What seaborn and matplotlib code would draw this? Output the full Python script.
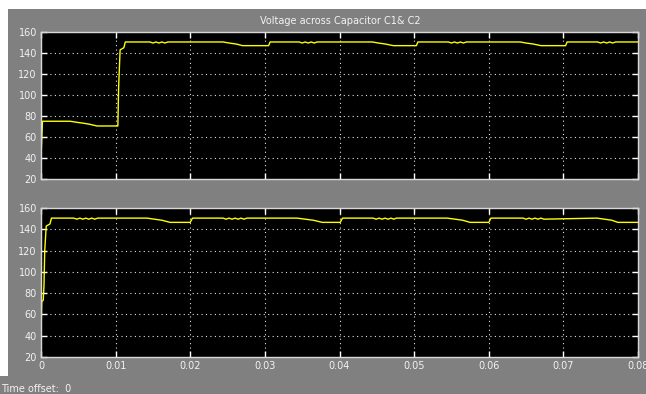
import matplotlib
matplotlib.use("Agg")
import matplotlib.pyplot as plt
from matplotlib.patches import Rectangle
import seaborn as sns
import pandas as pd

# ---- data ----
t_c1 = [0, 0.0002, 0.0039, 0.0048, 0.0058, 0.0066, 0.0075, 0.0103, 0.0104, 0.0106,
        0.0111, 0.0113, 0.0146, 0.0150, 0.0154, 0.0158, 0.0162, 0.0166, 0.0170,
        0.0244, 0.0252, 0.0262, 0.0270, 0.0305, 0.0307,
        0.0346, 0.0350, 0.0354, 0.0358, 0.0362, 0.0366, 0.0370,
        0.0444, 0.0452, 0.0462, 0.0472, 0.0503, 0.0505,
        0.0546, 0.0550, 0.0554, 0.0558, 0.0562, 0.0566, 0.0570,
        0.0642, 0.0650, 0.0660, 0.0670, 0.0703, 0.0705,
        0.0746, 0.0750, 0.0754, 0.0758, 0.0762, 0.0766, 0.0770, 0.0800]
v_c1 = [40, 75, 75, 74, 73, 72, 70.5, 70.5, 107, 143,
        145, 150.5, 150.5, 149.5, 150.5, 149.5, 150.5, 149.5, 150.5,
        150.5, 149.5, 148.5, 147, 147, 150.5,
        150.5, 149.5, 150.5, 149.5, 150.5, 149.5, 150.5,
        150.5, 149.5, 148.5, 147, 147, 150.5,
        150.5, 149.5, 150.5, 149.5, 150.5, 149.5, 150.5,
        150.5, 149.5, 148.5, 147, 147, 150.5,
        150.5, 149.5, 150.5, 149.5, 150.5, 149.5, 150.5, 150.5]

t_c2 = [0, 0.0001, 0.0003, 0.0004, 0.0005, 0.0007, 0.0012, 0.0014,
        0.0044, 0.0048, 0.0052, 0.0056, 0.0060, 0.0064, 0.0068, 0.0072, 0.0076,
        0.0142, 0.0152, 0.0162, 0.0173, 0.0200, 0.0203,
        0.0244, 0.0248, 0.0252, 0.0256, 0.0260, 0.0264, 0.0268, 0.0272, 0.0276,
        0.0343, 0.0354, 0.0365, 0.0377, 0.0401, 0.0404,
        0.0445, 0.0449, 0.0453, 0.0457, 0.0461, 0.0465, 0.0469, 0.0473, 0.0476,
        0.0544, 0.0555, 0.0565, 0.0575, 0.0600, 0.0603,
        0.0646, 0.0650, 0.0654, 0.0658, 0.0662, 0.0666, 0.0670, 0.0674,
        0.0745, 0.0755, 0.0765, 0.0773, 0.0800]
v_c2 = [40, 72, 73.5, 87, 120, 143, 145, 150.5,
        150.5, 149.5, 150.5, 149.5, 150.5, 149.5, 150.5, 149.5, 150.5,
        150.5, 149.5, 148.5, 146.5, 146.5, 150.5,
        150.5, 149.5, 150.5, 149.5, 150.5, 149.5, 150.5, 149.5, 150.5,
        150.5, 149.5, 148.5, 146.5, 146.5, 150.5,
        150.5, 149.5, 150.5, 149.5, 150.5, 149.5, 150.5, 149.5, 150.5,
        150.5, 149.5, 148.5, 146.5, 146.5, 150.5,
        150.5, 149.5, 150.5, 149.5, 150.5, 149.5, 150.5, 149.5,
        150.5, 149.5, 148.5, 146.5, 146.5]

x_ticks = [0, 0.01, 0.02, 0.03, 0.04, 0.05, 0.06, 0.07, 0.08]
x_tick_labels = ["0", "0.01", "0.02", "0.03", "0.04", "0.05", "0.06", "0.07", "0.08"]
y_ticks = [20, 40, 60, 80, 100, 120, 140, 160]
title = "Voltage across Capacitor C1& C2"

# ---- figure ----
sns.set_theme(style="dark")
plt.rcParams['font.family'] = ['DejaVu Sans']

W, H = 646, 394
fig = plt.figure(figsize=(W / 100, H / 100), dpi=100, facecolor="white")
gray = "#808080"
fig.patches.append(Rectangle((8 / W, 0), 1 - 8 / W, 1 - 9 / H, transform=fig.transFigure,
                             facecolor=gray, edgecolor="none", zorder=-10))
fig.patches.append(Rectangle((0, 0), 1, 18 / H, transform=fig.transFigure,
                             facecolor=gray, edgecolor="none", zorder=-10))

txt = "#f2f2f2"
edge = "#d8d8d8"

def make_ax(top_px, bot_px):
    return fig.add_axes([41 / W, (H - bot_px) / H, 597 / W, (bot_px - top_px) / H], zorder=5)

ax1 = make_ax(32, 179)
ax2 = make_ax(208, 357)

df1 = pd.DataFrame({"t": t_c1, "v": v_c1})
df2 = pd.DataFrame({"t": t_c2, "v": v_c2})

for ax, df in ((ax1, df1), (ax2, df2)):
    ax.set_facecolor("black")
    sns.lineplot(data=df, x="t", y="v", ax=ax, color="#ffff00", linewidth=1.0,
                 estimator=None, sort=False)
    ax.set_xlim(0, 0.08)
    ax.set_ylim(20, 160)
    ax.set_xticks(x_ticks)
    ax.set_yticks(y_ticks)
    ax.set_yticklabels([str(v) for v in y_ticks])
    ax.set_xlabel("")
    ax.set_ylabel("")
    ax.grid(True, color="#e0e0e0", linestyle=(0, (1, 3)), linewidth=0.8)
    ax.tick_params(axis="both", which="both", direction="in", length=4, width=1,
                   color="white", labelcolor=txt, labelsize=7,
                   top=True, right=True, bottom=True, left=True, pad=3)
    for s in ax.spines.values():
        s.set_visible(True)
        s.set_color(edge)
        s.set_linewidth(1.0)

ax1.set_xticklabels([])
ax2.set_xticklabels(x_tick_labels)

fig.text(340 / W, 1 - 21 / H, title, ha="center", va="center", color=txt, fontsize=7)
fig.text(1 / W, 1 - 389 / H, "Time offset:  0", ha="left", va="center", color=txt, fontsize=7)

fig.savefig("out.png", dpi=100, facecolor=fig.get_facecolor())
